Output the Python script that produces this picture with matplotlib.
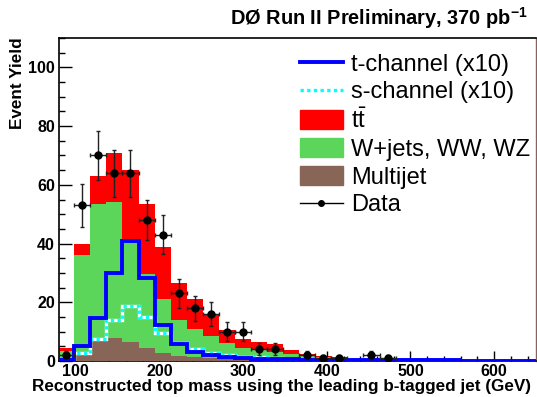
import numpy as np
import matplotlib
matplotlib.use("Agg")
import matplotlib.pyplot as plt
from matplotlib.lines import Line2D
from matplotlib.patches import Patch
from matplotlib.ticker import MultipleLocator

plt.rcParams['font.family'] = ['Liberation Sans', 'DejaVu Sans']
plt.rcParams['mathtext.fontset'] = 'custom'
plt.rcParams['mathtext.rm'] = 'Liberation Sans'
plt.rcParams['mathtext.bf'] = 'Liberation Sans:bold'
plt.rcParams['mathtext.it'] = 'Liberation Sans:italic'

# 30 bins in reconstructed top mass (GeV)
edges = np.linspace(79.0, 655.0, 31)

# background stack, events per bin
multijet = [0.3, 2.0, 7.0, 8.0, 6.5, 4.5, 2.7, 1.7, 1.2, 1.0, 0.8, 0.6, 0.5, 0.4, 0.3,
            0.3, 0.2, 0.2, 0.1, 0.1, 0.1, 0.1, 0.05, 0.05, 0.05, 0.0, 0.0, 0.0, 0.0, 0.0]
wjets = [3.1, 34.0, 46.3, 46.0, 34.0, 25.2, 18.3, 12.3, 9.8, 7.5, 5.2, 3.9, 3.3, 2.8, 2.2,
         1.7, 1.3, 0.9, 0.6, 0.4, 0.3, 0.2, 0.2, 0.15, 0.1, 0.1, 0.05, 0.1, 0.05, 0.05]
ttbar = [1.1, 4.0, 9.7, 17.0, 24.5, 23.6, 17.8, 12.6, 10.0, 7.5, 4.5, 3.0, 2.7, 2.5, 1.2,
         0.5, 0.2, 0.2, 0.1, 0.1, 0.1, 0.1, 0.05, 0.1, 0.05, 0.1, 0.05, 0.0, 0.0, 0.0]

# single top signal, scaled x10
tchan = [0.5, 5.0, 14.5, 30.0, 40.7, 28.3, 12.2, 5.7, 3.0, 2.0, 1.4, 1.0, 0.8, 0.7, 0.6,
         0.5, 0.4, 0.4, 0.3, 0.3, 0.3, 0.2, 0.2, 0.2, 0.2, 0.1, 0.1, 0.1, 0.1, 0.1]
schan = [0.3, 2.8, 7.5, 14.0, 18.7, 15.0, 9.6, 6.0, 4.0, 2.8, 2.0, 1.5, 1.2, 1.0, 0.8,
         0.6, 0.5, 0.4, 0.3, 0.3, 0.2, 0.2, 0.2, 0.2, 0.1, 0.1, 0.1, 0.1, 0.1, 0.1]

data = [2, 53, 70, 64, 64, 48, 43, 23, 18, 16, 10, 10, 4, 4, 0, 2, 1, 1, 0, 2,
        1, 0, 0, 0, 0, 0, 0, 0, 0, 0]

c_tt = '#ff0000'
c_w = '#5bd65a'
c_mj = '#886657'

fig = plt.figure(figsize=(5.37, 3.97), dpi=100)
ax = fig.add_axes([59/537, 1 - 361/397, 477/537, 323/397])

mj = np.array(multijet)
wj = mj + np.array(wjets)
tot = wj + np.array(ttbar)

ax.stairs(tot, edges, fill=True, color=c_tt, zorder=1)
ax.stairs(wj, edges, fill=True, color=c_w, zorder=2)
ax.stairs(mj, edges, fill=True, color=c_mj, zorder=3)

ax.stairs(schan, edges, baseline=0, color='white', lw=2.4, zorder=4)
ax.stairs(schan, edges, baseline=0, color='#00ffff', lw=2.4,
          linestyle=(0, (1, 1)), zorder=5)
ax.stairs(tchan, edges, baseline=0, color='#0000ff', lw=2.8, zorder=6)

centers = 0.5 * (edges[1:] + edges[:-1])
halfw = 0.5 * np.diff(edges)
d = np.array(data, dtype=float)
sel = d > 0
ax.errorbar(centers[sel], d[sel], yerr=np.sqrt(d[sel]), xerr=halfw[sel],
            fmt='o', color='black', ecolor='#222222', ms=5, elinewidth=1,
            capsize=1.5, capthick=1, zorder=7)

ax.set_xlim(80, 650)
ax.set_ylim(0, 110)
ax.xaxis.set_major_locator(MultipleLocator(100))
ax.xaxis.set_minor_locator(MultipleLocator(20))
ax.yaxis.set_major_locator(MultipleLocator(20))
ax.yaxis.set_minor_locator(MultipleLocator(5))
ax.tick_params(axis='x', which='major', direction='in', length=7, width=1, pad=2,
               labelsize=11.5)
ax.tick_params(axis='x', which='minor', direction='in', length=3.6, width=1)
ax.tick_params(axis='y', which='major', direction='in', length=9, width=1, pad=3,
               labelsize=11.5)
ax.tick_params(axis='y', which='minor', direction='in', length=4.5, width=1)
for lab in ax.get_xticklabels() + ax.get_yticklabels():
    lab.set_fontweight('bold')
for s in ['left', 'bottom', 'top']:
    ax.spines[s].set_linewidth(1.2)
ax.spines['right'].set_color('#8b6060')
ax.spines['right'].set_linewidth(1.0)

handles = [
    Line2D([], [], color='#0000ff', lw=2.8),
    Line2D([], [], color='#00ffff', lw=2.4, linestyle=(0, (1, 1))),
    Patch(color=c_tt),
    Patch(color=c_w),
    Patch(color=c_mj),
    Line2D([], [], color='black', lw=1, marker='o', ms=4),
]
labels = ['t-channel (x10)', 's-channel (x10)', r'$\mathrm{t\bar{t}}$',
          'W+jets, WW, WZ', 'Multijet', 'Data']
ax.legend(handles, labels, loc='upper left', bbox_to_anchor=(300/537, 1 - 53/397),
          bbox_transform=fig.transFigure, frameon=False, fontsize=17,
          handlelength=1.8, handleheight=0.85, handletextpad=0.38,
          labelspacing=0.22, borderpad=0, borderaxespad=0)

fig.text(528/537, 1 - 18/397, r'DØ Run II Preliminary, 370 pb$^{\mathbf{-1}}$',
         ha='right', va='center', fontsize=14.4, fontweight='bold')
fig.text(18/537, 1 - 37/397, 'Event Yield', rotation=90, ha='center', va='top',
         fontsize=12.3, fontweight='bold')
fig.text(531/537, 1 - 387/397,
         'Reconstructed top mass using the leading b-tagged jet (GeV)',
         ha='right', va='center', fontsize=12.3, fontweight='bold')

fig.savefig('out.png', dpi=100)
